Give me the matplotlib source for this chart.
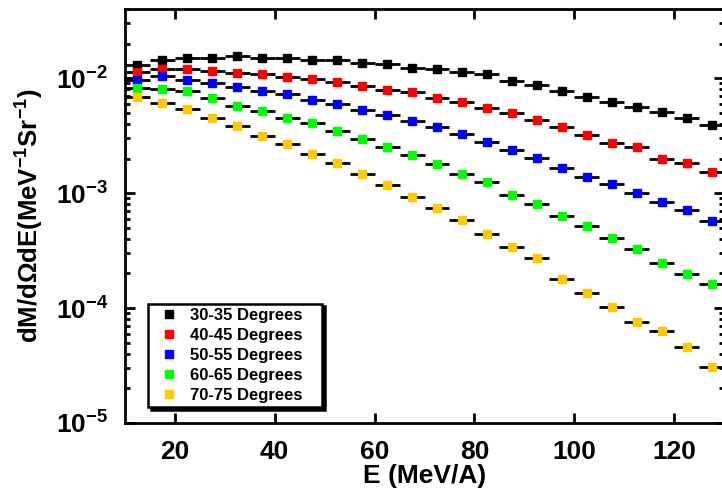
import numpy as np
import matplotlib

matplotlib.use("Agg")
import matplotlib.pyplot as plt
from matplotlib.ticker import FixedLocator, LogLocator, NullFormatter, FuncFormatter

plt.rcParams["font.family"] = ["Liberation Sans", "DejaVu Sans"]
plt.rcParams["font.weight"] = "bold"
plt.rcParams["mathtext.fontset"] = "custom"
plt.rcParams["mathtext.rm"] = "Liberation Sans:bold"
plt.rcParams["mathtext.bf"] = "Liberation Sans:bold"
plt.rcParams["mathtext.default"] = "bf"

# energy bin centres (MeV/A), bin half-width 2.5
energy = [12.5, 17.5, 22.5, 27.5, 32.5, 37.5, 42.5, 47.5, 52.5, 57.5, 62.5, 67.5,
          72.5, 77.5, 82.5, 87.5, 92.5, 97.5, 102.5, 107.5, 112.5, 117.5, 122.5, 127.5]
bin_half = 2.5

deg_30_35 = [0.0130, 0.01437, 0.01506, 0.0150, 0.01549, 0.0151, 0.0151, 0.0144,
             0.0145, 0.01345, 0.01318, 0.01223, 0.01199, 0.01122, 0.01077, 0.00947,
             0.00881, 0.00770, 0.00686, 0.00617, 0.00565, 0.00507, 0.00453, 0.00388]
deg_40_45 = [0.01128, 0.01206, 0.01206, 0.01151, 0.01106, 0.01077, 0.01027, 0.00986,
             0.00928, 0.00863, 0.00796, 0.00759, 0.00672, 0.00621, 0.00554, 0.00494,
             0.00429, 0.00373, 0.00319, 0.00272, 0.00251, 0.00200, 0.00183, 0.00154]
deg_50_55 = [0.00974, 0.01035, 0.00966, 0.00904, 0.00846, 0.00774, 0.00724, 0.00651,
             0.00592, 0.00532, 0.00475, 0.00427, 0.00375, 0.00326, 0.00279, 0.00239,
             0.00204, 0.00167, 0.00138, 0.00121, 0.00101, 0.000844, 0.000719, 0.000569]
deg_60_65 = [0.00818, 0.00806, 0.00770, 0.00672, 0.00577, 0.00518, 0.00447, 0.00404,
             0.00349, 0.00297, 0.00251, 0.00215, 0.00179, 0.00147, 0.00125, 0.000960,
             0.000806, 0.000633, 0.000514, 0.000404, 0.000326, 0.000247, 0.000198, 0.000162]
deg_70_75 = [0.00692, 0.00613, 0.00539, 0.00453, 0.00386, 0.00317, 0.00265, 0.00221,
             0.00182, 0.00148, 0.00117, 0.000934, 0.000748, 0.000588, 0.000438, 0.000337,
             0.000270, 0.000180, 0.000135, 0.000102, 0.0000763, 0.0000637, 0.0000455, 0.0000308]

labels = ["30-35 Degrees", "40-45 Degrees", "50-55 Degrees", "60-65 Degrees", "70-75 Degrees"]
colors = ["#000000", "#ff0000", "#0000ff", "#00ff00", "#ffc800"]
series = [deg_30_35, deg_40_45, deg_50_55, deg_60_65, deg_70_75]

fig = plt.figure(figsize=(7.22, 4.96), dpi=100)
ax = fig.add_axes([125 / 722, 73 / 496, 599 / 722, 414 / 496])

handles = []
for vals, col, lab in zip(series, colors, labels):
    c = ax.errorbar(energy, vals, xerr=bin_half, fmt="s", color=col, ms=6,
                    mec=col, ecolor="black", elinewidth=2.0, capsize=0, label=lab)
    handles.append(c.lines[0])

ax.set_yscale("log")
ax.set_xlim(10, 130)
ax.set_ylim(1e-5, 0.04)

ax.xaxis.set_major_locator(FixedLocator([20, 40, 60, 80, 100, 120]))
ax.yaxis.set_major_locator(LogLocator(base=10))
ax.yaxis.set_minor_locator(LogLocator(base=10, subs=np.arange(2, 10)))
ax.yaxis.set_minor_formatter(NullFormatter())
ax.yaxis.set_major_formatter(FuncFormatter(lambda v, _: r"$\mathbf{10^{%d}}$" % round(np.log10(v))))

ax.tick_params(which="both", direction="in", top=True, right=True, width=2.0)
ax.tick_params(which="major", length=7.5, labelsize=19, pad=12)
ax.tick_params(which="minor", length=3.5)
for s in ax.spines.values():
    s.set_linewidth(2.0)

ax.set_xlabel("E (MeV/A)", fontsize=19, fontweight="bold", labelpad=0)
ax.set_ylabel("dM/dΩdE(MeV$^{-1}$Sr$^{-1}$)", fontsize=18.5, fontweight="bold", labelpad=7)

# legend box stretched to the reference width (extra room on the right)
leg = ax.legend(handles, labels, loc="lower left", bbox_to_anchor=(0.0384, 0.039, 0.2905, 0.0),
                mode="expand", borderaxespad=0, fontsize=12, markerscale=0.85,
                handlelength=2.0, handletextpad=0.26, borderpad=0.25, labelspacing=0.3,
                fancybox=False, framealpha=1, edgecolor="black",
                shadow={"color": "black", "alpha": 1})
leg.get_frame().set_linewidth(1.8)
for t in leg.get_texts():
    t.set_fontweight("bold")

fig.savefig("out.png", dpi=100)
